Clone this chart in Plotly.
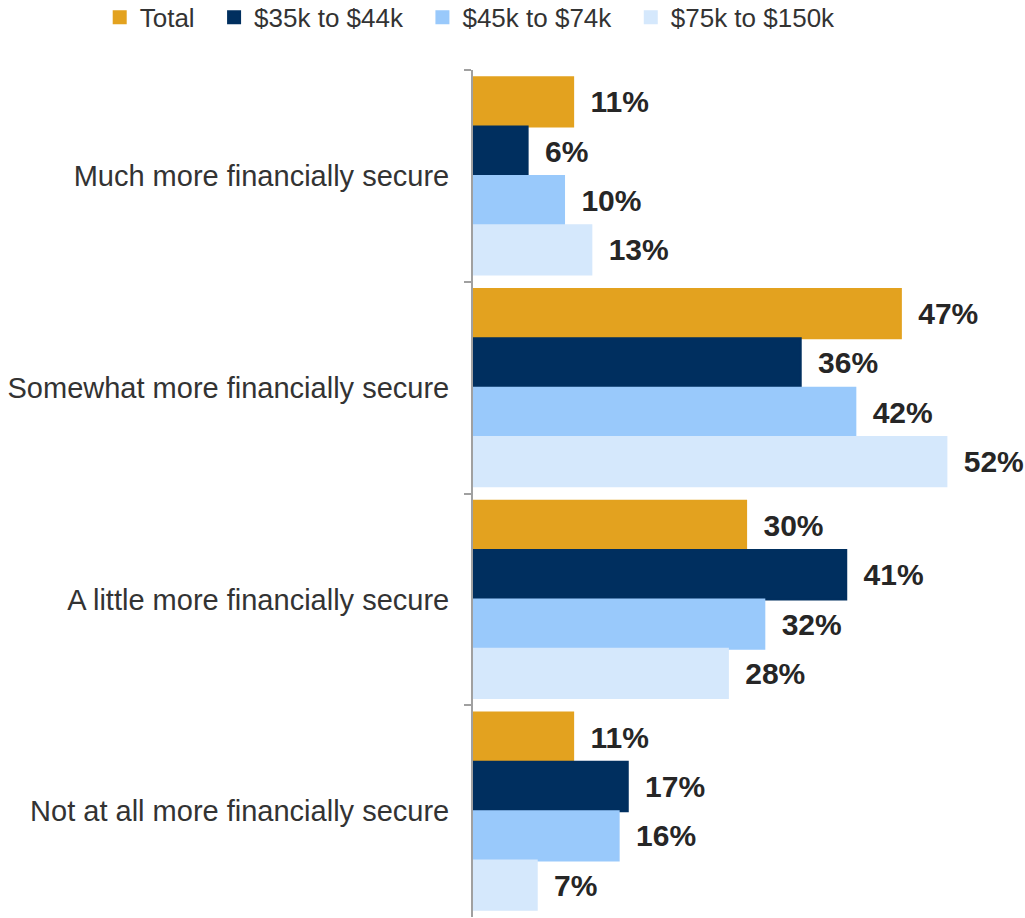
import plotly.graph_objects as go

# Survey responses by household income band
categories = [
    "Much more financially secure",
    "Somewhat more financially secure",
    "A little more financially secure",
    "Not at all more financially secure",
]
series_names = ["Total", "$35k to $44k", "$45k to $74k", "$75k to $150k"]
total = [11, 47, 30, 11]
inc_35_44 = [6, 36, 41, 17]
inc_45_74 = [10, 42, 32, 16]
inc_75_150 = [13, 52, 28, 7]

series_values = [total, inc_35_44, inc_45_74, inc_75_150]
colors = ["#E3A21F", "#002F5F", "#99C9FB", "#D5E8FC"]

FONT = "Liberation Sans, Arial, sans-serif"
LEGEND_PAD = "\u00a0\u00a0"  # extra room between legend entries

fig = go.Figure()
for name, vals, col in zip(series_names, series_values, colors):
    fig.add_trace(go.Bar(
        y=categories,
        x=vals,
        name=name + LEGEND_PAD,
        orientation="h",
        marker=dict(color=col, line=dict(width=2, color=col)),
        text=vals,
        texttemplate="\u00a0\u2009%{x}%",
        textposition="outside",
        constraintext="none",
        cliponaxis=False,
        textfont=dict(family=FONT, size=30, color="#262626", weight="bold"),
        hovertemplate=name + ": %{x}%<extra></extra>",
    ))

fig.update_layout(
    width=1025,
    height=918,
    barmode="group",
    bargap=0.068,
    bargroupgap=0,
    plot_bgcolor="white",
    paper_bgcolor="white",
    margin=dict(l=473, r=24, t=70, b=1, autoexpand=False),
    font=dict(family=FONT, color="#333333"),
    showlegend=True,
    legend=dict(
        orientation="h",
        x=-0.707, y=1.09, xanchor="left", yanchor="top",
        font=dict(family=FONT, size=26, color="#333333"),
        traceorder="normal",
        itemclick=False,
        tracegroupgap=0,
    ),
    xaxis=dict(
        range=[0, 58],
        showgrid=False,
        zeroline=False,
        showticklabels=False,
        ticks="",
        showline=False,
    ),
    yaxis=dict(
        autorange="reversed",
        showgrid=False,
        showline=True,
        linecolor="#A0A0A0",
        linewidth=2,
        ticks="outside",
        tickson="boundaries",
        ticklen=7,
        tickwidth=2,
        tickcolor="#A0A0A0",
        ticklabelstandoff=16,
        tickfont=dict(family=FONT, size=29, color="#333333"),
    ),
)

fig.write_html("out.html")
